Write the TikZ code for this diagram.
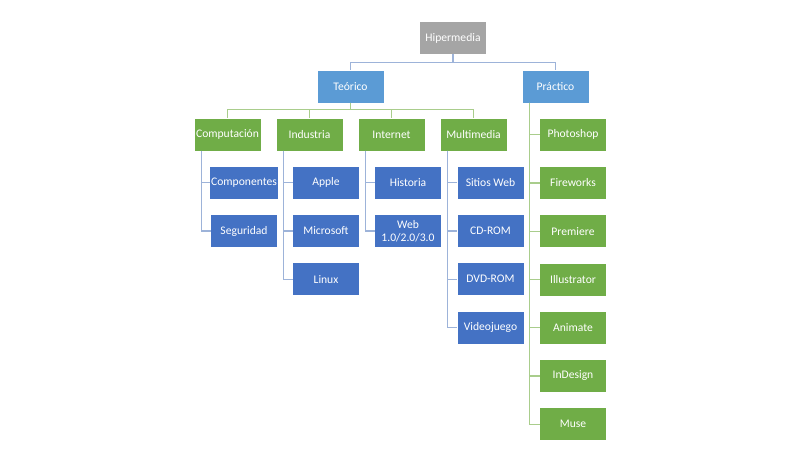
\documentclass[tikz,border=0pt]{standalone}
\usepackage{fontspec}
\setmainfont{Carlito}
\definecolor{gris}{HTML}{A5A5A5}
\definecolor{azulclaro}{HTML}{5B9BD5}
\definecolor{verde}{HTML}{70AD47}
\definecolor{azul}{HTML}{4472C4}
\definecolor{lineaazul}{HTML}{9DB3D9}
\definecolor{lineaverde}{HTML}{A9CD8C}
\begin{document}
\begin{tikzpicture}[x=1pt, y=-1pt, every text node part/.style={align=center},
caja/.style={minimum width=66pt, minimum height=32pt, inner sep=1pt, text=white, font=\fontsize{11.6}{12.5}\selectfont},
lazul/.style={draw=lineaazul, line width=1.3pt},
lverde/.style={draw=lineaverde, line width=1.3pt}]
\useasboundingbox (0,0) rectangle (800,450);
% top levels
\node[caja, fill=gris] (hip) at (453,38) {Hipermedia};
\node[caja, fill=azulclaro] (teo) at (350.5,86.5) {Teórico};
\node[caja, fill=azulclaro] (pra) at (555.5,86.5) {Práctico};
\node[caja, fill=verde] (comp) at (227.5,134.5) {Computación};
\node[caja, fill=verde] (ind) at (309.5,134.5) {Industria};
\node[caja, fill=verde] (inter) at (391.5,134.5) {Internet};
\node[caja, fill=verde] (multi) at (473.5,134.5) {Multimedia};
\draw[lazul] (hip.south) -- ++(0,8) -| (teo.north);
\draw[lazul] (hip.south) -- ++(0,8) -| (pra.north);
\foreach \p in {comp, ind, inter, multi}
  \draw[lverde] (teo.south) -- ++(0,7) -| (\p.north);
% hanging lists
\foreach \t [count=\i] in {Componentes, Seguridad}
  \node[caja, fill=azul] (comp-\i) at (244, {134.5+48.25*\i}) {\t};
\foreach \t [count=\i] in {Apple, Microsoft, Linux}
  \node[caja, fill=azul] (ind-\i) at (326, {134.5+48.25*\i}) {\t};
\foreach \t [count=\i] in {Historia, {Web\\1.0/2.0/3.0}}
  \node[caja, fill=azul] (inter-\i) at (408, {134.5+48.25*\i}) {\t};
\foreach \t [count=\i] in {Sitios Web, CD-ROM, DVD-ROM, Videojuego}
  \node[caja, fill=azul] (multi-\i) at (490.5, {134.5+48.25*\i}) {\t};
\foreach \t [count=\i] in {Photoshop, Fireworks, Premiere, Illustrator, Animate, InDesign, Muse}
  \node[caja, fill=verde] (pra-\i) at (573, {86.5+48.25*\i}) {\t};
\foreach \i in {1,2} \draw[lazul] (comp.south west) ++(7,0) |- (comp-\i.west);
\foreach \i in {1,2,3} \draw[lazul] (ind.south west) ++(7,0) |- (ind-\i.west);
\foreach \i in {1,2} \draw[lazul] (inter.south west) ++(7,0) |- (inter-\i.west);
\foreach \i in {1,...,4} \draw[lazul] (multi.south west) ++(7,0) |- (multi-\i.west);
\foreach \i in {1,...,7} \draw[lverde] (pra.south west) ++(7,0) |- (pra-\i.west);
\end{tikzpicture}
\end{document}
